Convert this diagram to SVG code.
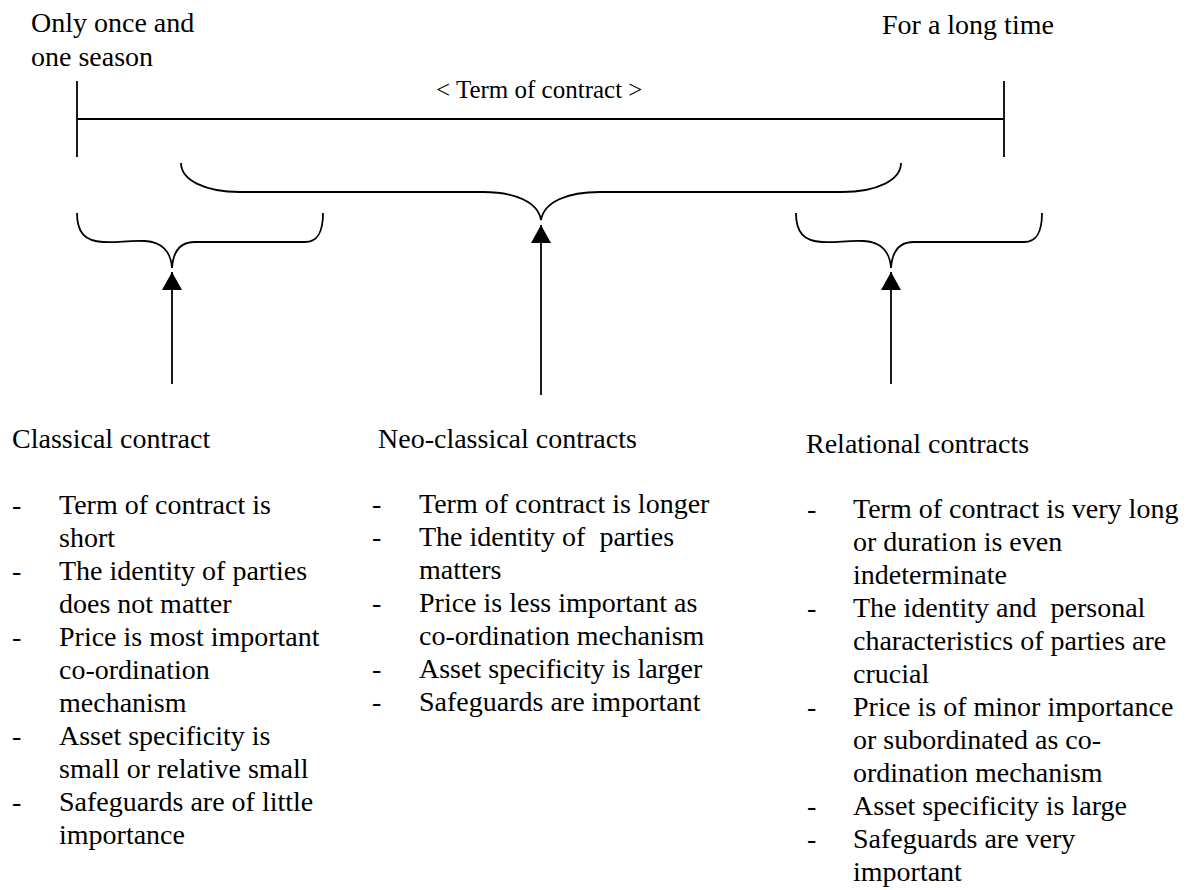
<svg xmlns="http://www.w3.org/2000/svg" width="1192" height="890" viewBox="0 0 1192 890">
<style>
text{font-family:"Liberation Serif",Tinos,Times,"Noto Serif","DejaVu Serif",serif;font-size:28px;fill:#000}
.lbl{font-size:25px}
.ln{fill:none;stroke:#000;stroke-width:1.8}
</style>
<defs>
<marker id="ah" viewBox="0 0 18 20" markerWidth="18" markerHeight="20" refX="18" refY="10" orient="auto" markerUnits="userSpaceOnUse">
<path d="M0,0 L18,10 L0,20 z" fill="#000"/>
</marker>
<path id="small" d="M77,213 C77,233 85,241 103,242 C118,243 128,240 145,241 C162,242 171,252 172,268 C173,252 180,242 195,242 L305,242 C318,242 323,232 323,213"/>
</defs>
<rect width="1192" height="890" fill="#fff"/>

<g id="scale">
<text x="31" y="32">Only once and</text>
<text x="31" y="66">one season</text>
<text x="882" y="34">For a long time</text>
<line class="ln" x1="77" y1="81" x2="77" y2="157"/>
<line class="ln" x1="77" y1="119" x2="1004" y2="119"/>
<line class="ln" x1="1004" y1="81" x2="1004" y2="157"/>
<text class="lbl" x="436" y="98">&lt; Term of contract &gt;</text>
</g>

<g id="braces">
<path class="ln" d="M181,163 C181,180 205,192 240,192 L483,192 C515,192 538,202 541,220 C544,202 567,192 600,192 L842,192 C877,192 901,180 901,163"/>
<use href="#small" class="ln"/>
<use href="#small" class="ln" transform="translate(719,0)"/>
</g>

<g id="connectors">
<line class="ln" x1="172" y1="384" x2="172" y2="272" marker-end="url(#ah)"/>
<line class="ln" x1="541" y1="395" x2="541" y2="225" marker-end="url(#ah)"/>
<line class="ln" x1="891" y1="384" x2="891" y2="272" marker-end="url(#ah)"/>
</g>

<g id="classical">
<text x="12" y="448">Classical contract</text>
<text x="12" y="514">-</text><text x="59" y="514">Term of contract is</text>
<text x="59" y="547">short</text>
<text x="12" y="580">-</text><text x="59" y="580">The identity of parties</text>
<text x="59" y="613">does not matter</text>
<text x="12" y="646">-</text><text x="59" y="646">Price is most important</text>
<text x="59" y="679">co-ordination</text>
<text x="59" y="712">mechanism</text>
<text x="12" y="745">-</text><text x="59" y="745">Asset specificity is</text>
<text x="59" y="778">small or relative small</text>
<text x="12" y="811">-</text><text x="59" y="811">Safeguards are of little</text>
<text x="59" y="844">importance</text>
</g>

<g id="neoclassical">
<text x="378" y="448">Neo-classical contracts</text>
<text x="372" y="513">-</text><text x="419" y="513">Term of contract is longer</text>
<text x="372" y="546">-</text><text x="419" y="546" xml:space="preserve">The identity of  parties</text>
<text x="419" y="579">matters</text>
<text x="372" y="612">-</text><text x="419" y="612">Price is less important as</text>
<text x="419" y="645">co-ordination mechanism</text>
<text x="372" y="678">-</text><text x="419" y="678">Asset specificity is larger</text>
<text x="372" y="711">-</text><text x="419" y="711">Safeguards are important</text>
</g>

<g id="relational">
<text x="806" y="453">Relational contracts</text>
<text x="807" y="518">-</text><text x="853" y="518">Term of contract is very long</text>
<text x="853" y="551">or duration is even</text>
<text x="853" y="584">indeterminate</text>
<text x="807" y="617">-</text><text x="853" y="617" xml:space="preserve">The identity and  personal</text>
<text x="853" y="650">characteristics of parties are</text>
<text x="853" y="683">crucial</text>
<text x="807" y="716">-</text><text x="853" y="716">Price is of minor importance</text>
<text x="853" y="749">or subordinated as co-</text>
<text x="853" y="782">ordination mechanism</text>
<text x="807" y="815">-</text><text x="853" y="815">Asset specificity is large</text>
<text x="807" y="848">-</text><text x="853" y="848">Safeguards are very</text>
<text x="853" y="881">important</text>
</g>
</svg>
